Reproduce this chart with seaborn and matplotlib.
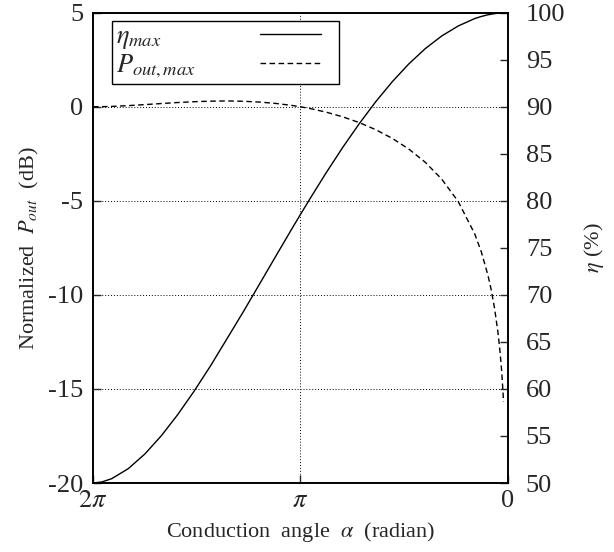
import numpy as np
import pandas as pd
import seaborn as sns
import matplotlib.pyplot as plt
from matplotlib.offsetbox import DrawingArea

# conduction angle (rad), efficiency (%) and normalized output power (dB)
alpha = [6.2832, 6.15, 6.0, 5.75, 5.5, 5.25, 5.0, 4.75, 4.5, 4.25, 4.0, 3.75, 3.5,
         3.25, 3.1416, 3.0, 2.75, 2.5, 2.25, 2.0, 1.75, 1.5, 1.25, 1.0, 0.75, 0.5,
         0.4, 0.3, 0.25, 0.2, 0.15, 0.125, 0.1, 0.09, 0.0635]
eta = [50.0, 50.11, 50.46, 51.52, 53.07, 55.01, 57.27, 59.78, 62.49, 65.38, 68.28,
       71.28, 74.29, 77.27, 78.54, 80.18, 83.00, 85.68, 88.20, 90.54, 92.66, 94.55,
       96.18, 97.53, 98.59, 99.38, 99.60, 99.78, 99.84, 99.90, 99.94, 99.96, 99.975,
       99.98, 99.99]
pout = [0.0, 0.0045, 0.0192, 0.0601, 0.1136, 0.1709, 0.2247, 0.2687, 0.2974, 0.3087,
        0.2905, 0.2470, 0.1716, 0.0604, 0.0, -0.0909, -0.2873, -0.5354, -0.8424,
        -1.2192, -1.6801, -2.2464, -2.9510, -3.8489, -5.0428, -6.7641, -7.7218,
        -8.9623, -9.7506, -10.7169, -11.9638, -12.7551, -13.7236, -14.181, -15.69]

x_ticks = [2 * np.pi, np.pi, 0]
x_ticklabels = [r'$2\pi$', r'$\pi$', '0']

sns.set_style("white")
plt.rcParams['font.family'] = 'serif'
plt.rcParams['font.serif'] = ['Liberation Serif', 'DejaVu Serif']
plt.rcParams['mathtext.fontset'] = 'stix'
plt.rcParams['axes.unicode_minus'] = False

df = pd.DataFrame({'alpha': alpha, 'eta': eta, 'pout': pout})

fig = plt.figure(figsize=(6.14, 5.52), dpi=100)
ax = fig.add_axes([0.1515, 0.125, 0.6755, 0.852])
ax2 = ax.twinx()

sns.lineplot(data=df, x='alpha', y='pout', ax=ax, color='black', lw=1.0,
             linestyle=(0, (4, 2.5)), label=r'$P_{out,max}$', sort=False)
sns.lineplot(data=df, x='alpha', y='eta', ax=ax2, color='black', lw=1.0,
             label=r'$\eta_{max}$', sort=False)
for a in (ax, ax2):
    if a.get_legend() is not None:
        a.get_legend().remove()

ax.set_xlim(2 * np.pi, 0)
ax.set_ylim(-20, 5)
ax2.set_ylim(50, 100)
ax.set_xticks(x_ticks)
ax.set_xticklabels(x_ticklabels)
ax.set_yticks([-20, -15, -10, -5, 0, 5])
ax2.set_yticks([50, 55, 60, 65, 70, 75, 80, 85, 90, 95, 100])

ax.grid(True, linestyle=(0, (1, 2)), color='black', lw=0.7)
ax.tick_params(axis='both', direction='in', length=6, width=1, labelsize=19,
               left=True, bottom=True, top=False, right=False)
ax.tick_params(axis='y', pad=7)
ax.tick_params(axis='x', pad=5)
ax2.tick_params(axis='y', direction='in', length=6, width=1, labelsize=19, pad=13)

for a in (ax, ax2):
    for s in a.spines.values():
        s.set_color('black')
        s.set_linewidth(1.2)

ax.set_xlabel(r'Conduction  angle  $\alpha$  (radian)', fontsize=16, labelpad=6)
ax.set_ylabel(r'Normalized  $P_{out}$  (dB)', fontsize=16, labelpad=5)
ax2.set_ylabel(r'$\eta$ (%)', fontsize=16, labelpad=12)

h1, l1 = ax2.get_legend_handles_labels()
h0, l0 = ax.get_legend_handles_labels()
leg = ax2.legend(h1 + h0, l1 + l0, loc='upper left', bbox_to_anchor=(0.0458, 0.9824),
                 borderaxespad=0, fontsize=19, markerfirst=False, handlelength=2.3,
                 handletextpad=1.0, fancybox=False, frameon=True, borderpad=0.15,
                 labelspacing=0.05)
leg.get_frame().set_edgecolor('black')
leg.get_frame().set_linewidth(1.0)
leg.get_frame().set_alpha(1)

# left-align the labels, keep the line samples flush right
col = leg._legend_handle_box.get_children()[0]
col.align = 'left'
col.width = 205
for row in col.get_children():
    row.mode = 'expand'
leg._legend_handle_box.sep = 0
leg._legend_handle_box.get_children().append(DrawingArea(10, 0))

fig.savefig('out.png', dpi=100)
